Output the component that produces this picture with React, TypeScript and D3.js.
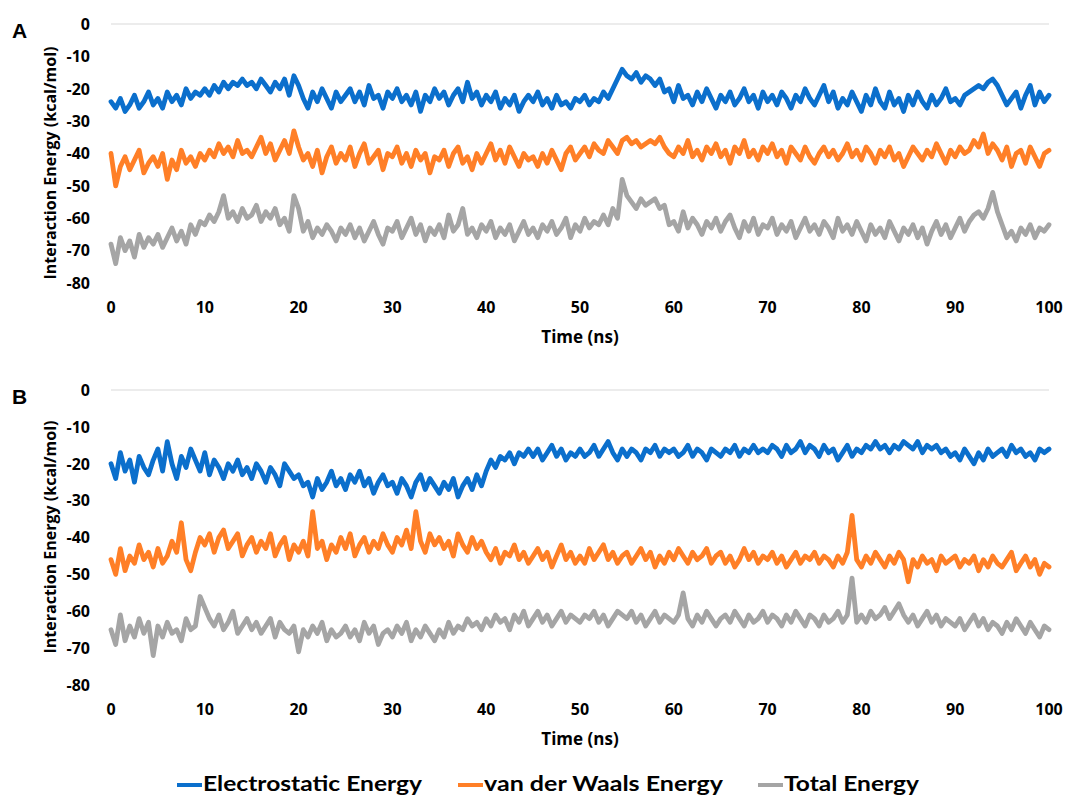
import React from "react";
import * as d3 from "d3";

const SERIES_NAMES = ["Electrostatic Energy", "van der Waals Energy", "Total Energy"];
const SERIES_COLORS = ["#0B6FCC", "#FF7F27", "#A5A5A5"];
const X_TICKS = [0, 10, 20, 30, 40, 50, 60, 70, 80, 90, 100];
const Y_TICKS = [0, -10, -20, -30, -40, -50, -60, -70, -80];
const TIME = d3.range(0, 100.001, 0.5);

const A_ELEC = [
  -24,-26,-23,-27,-25,-22,-26,-24,-21,-25,
  -23,-26,-21,-24,-22,-25,-20,-23,-21,-22,
  -20,-22,-19,-21,-18,-20,-18,-19,-17,-19,
  -18,-20,-17,-19,-21,-18,-20,-17,-22,-16,
  -19,-23,-26,-21,-24,-20,-23,-26,-21,-24,
  -22,-20,-24,-21,-25,-19,-23,-22,-26,-21,
  -23,-20,-24,-22,-25,-21,-27,-22,-24,-20,
  -23,-21,-25,-22,-20,-24,-18,-23,-21,-25,
  -22,-24,-21,-26,-23,-25,-22,-27,-24,-22,
  -24,-21,-25,-23,-26,-22,-25,-24,-26,-23,
  -24,-22,-25,-23,-24,-21,-23,-20,-17,-14,
  -16,-17,-15,-18,-16,-17,-19,-17,-21,-20,
  -24,-19,-23,-22,-25,-21,-24,-20,-23,-26,
  -22,-24,-21,-25,-23,-20,-24,-22,-26,-21,
  -24,-22,-25,-21,-23,-26,-22,-24,-20,-23,
  -25,-22,-19,-24,-21,-26,-23,-25,-21,-24,
  -27,-22,-25,-20,-24,-26,-21,-25,-23,-27,
  -22,-25,-21,-24,-26,-22,-25,-23,-20,-24,
  -23,-25,-22,-21,-20,-19,-20,-18,-17,-19,
  -22,-25,-23,-21,-26,-22,-19,-25,-21,-24,
  -22,
];
const A_VDW = [
  -40,-50,-44,-41,-45,-42,-39,-46,-43,-41,
  -44,-40,-48,-42,-45,-39,-43,-41,-44,-40,
  -42,-39,-41,-37,-40,-38,-41,-36,-40,-39,
  -41,-38,-35,-40,-37,-42,-39,-36,-40,-33,
  -38,-42,-40,-44,-39,-46,-41,-38,-43,-40,
  -42,-38,-44,-40,-37,-43,-41,-39,-45,-40,
  -41,-38,-43,-40,-44,-39,-42,-40,-46,-41,
  -42,-39,-44,-40,-38,-43,-41,-45,-40,-43,
  -40,-37,-42,-39,-43,-38,-41,-44,-40,-42,
  -41,-44,-40,-43,-39,-42,-45,-40,-38,-42,
  -40,-38,-41,-37,-39,-40,-36,-38,-40,-36,
  -35,-37,-36,-38,-37,-36,-37,-35,-38,-40,
  -41,-38,-40,-36,-41,-39,-42,-38,-40,-37,
  -41,-39,-43,-38,-40,-36,-41,-39,-42,-38,
  -40,-37,-41,-39,-43,-38,-40,-42,-38,-41,
  -43,-40,-38,-41,-39,-42,-40,-37,-41,-39,
  -42,-38,-40,-43,-39,-41,-38,-42,-40,-44,
  -41,-38,-40,-42,-39,-41,-37,-40,-43,-39,
  -41,-38,-40,-39,-36,-38,-34,-40,-37,-39,
  -42,-38,-44,-40,-39,-43,-38,-41,-44,-40,
  -39,
];
const A_TOTAL = [
  -68,-74,-66,-70,-67,-72,-65,-69,-66,-68,
  -65,-69,-66,-63,-67,-64,-68,-62,-65,-61,
  -62,-59,-61,-58,-53,-60,-58,-61,-57,-60,
  -59,-56,-61,-58,-60,-57,-62,-60,-64,-53,
  -57,-64,-61,-66,-63,-65,-62,-64,-67,-63,
  -65,-62,-66,-63,-67,-64,-61,-65,-68,-63,
  -64,-61,-66,-63,-60,-65,-62,-67,-63,-65,
  -62,-66,-59,-64,-62,-57,-65,-63,-66,-62,
  -64,-61,-66,-63,-65,-62,-67,-64,-61,-65,
  -63,-66,-62,-64,-61,-65,-63,-60,-66,-62,
  -64,-60,-63,-61,-62,-59,-62,-57,-60,-48,
  -53,-55,-57,-54,-56,-55,-54,-57,-56,-62,
  -61,-64,-58,-63,-60,-62,-65,-61,-63,-60,
  -64,-61,-59,-63,-66,-61,-64,-60,-65,-62,
  -63,-60,-65,-62,-64,-61,-66,-63,-60,-64,
  -62,-65,-61,-63,-66,-60,-64,-62,-65,-61,
  -64,-67,-62,-65,-63,-66,-61,-64,-67,-63,
  -65,-62,-66,-63,-68,-64,-61,-65,-62,-66,
  -63,-60,-64,-61,-59,-58,-60,-57,-52,-58,
  -62,-66,-64,-67,-63,-65,-62,-66,-63,-64,
  -62,
];
const B_ELEC = [
  -20,-24,-17,-22,-19,-25,-18,-21,-23,-19,
  -16,-22,-14,-20,-24,-18,-21,-16,-19,-22,
  -17,-23,-19,-21,-24,-20,-22,-19,-23,-21,
  -24,-20,-22,-25,-21,-23,-26,-20,-22,-24,
  -23,-26,-25,-29,-24,-27,-25,-22,-26,-24,
  -27,-23,-25,-22,-26,-24,-28,-25,-23,-26,
  -25,-28,-24,-26,-29,-25,-23,-27,-24,-26,
  -28,-25,-27,-24,-29,-26,-24,-27,-23,-26,
  -22,-19,-21,-18,-19,-17,-20,-17,-18,-16,
  -18,-16,-19,-17,-15,-18,-16,-19,-17,-18,
  -16,-18,-17,-15,-18,-16,-14,-17,-19,-16,
  -18,-16,-17,-19,-16,-17,-15,-18,-16,-17,
  -16,-18,-17,-15,-18,-16,-17,-19,-16,-17,
  -18,-16,-17,-15,-18,-16,-17,-15,-17,-16,
  -17,-15,-16,-18,-15,-17,-16,-14,-17,-15,
  -16,-18,-15,-17,-16,-19,-17,-15,-18,-16,
  -17,-15,-16,-14,-16,-15,-17,-15,-16,-14,
  -15,-16,-14,-17,-15,-16,-15,-17,-16,-18,
  -17,-19,-16,-18,-20,-17,-19,-16,-18,-17,
  -16,-18,-15,-17,-16,-18,-17,-19,-16,-17,
  -16,
];
const B_VDW = [
  -46,-50,-43,-49,-45,-47,-42,-46,-44,-48,
  -43,-47,-45,-41,-44,-36,-46,-49,-44,-40,
  -42,-39,-44,-40,-38,-43,-41,-39,-45,-42,
  -40,-44,-41,-43,-39,-45,-42,-40,-46,-42,
  -44,-41,-45,-33,-43,-41,-46,-42,-44,-40,
  -43,-39,-45,-42,-40,-44,-41,-43,-39,-42,
  -44,-40,-42,-38,-43,-33,-41,-44,-39,-42,
  -40,-43,-41,-45,-39,-42,-44,-40,-43,-41,
  -44,-46,-43,-47,-44,-45,-42,-46,-44,-47,
  -45,-43,-46,-44,-48,-45,-42,-46,-44,-47,
  -45,-47,-43,-46,-44,-42,-46,-44,-47,-45,
  -44,-47,-45,-43,-46,-44,-48,-45,-47,-44,
  -46,-43,-45,-47,-44,-46,-45,-43,-47,-45,
  -44,-47,-45,-48,-46,-43,-46,-44,-47,-45,
  -46,-44,-47,-45,-48,-46,-44,-47,-45,-46,
  -44,-47,-45,-46,-48,-45,-47,-44,-34,-46,
  -48,-45,-47,-44,-46,-48,-45,-47,-44,-46,
  -52,-46,-48,-45,-47,-46,-49,-45,-47,-46,
  -45,-48,-46,-47,-45,-49,-46,-48,-45,-47,
  -48,-46,-44,-49,-47,-45,-48,-46,-50,-47,
  -48,
];
const B_TOTAL = [
  -65,-69,-61,-68,-64,-67,-62,-66,-63,-72,
  -64,-67,-63,-66,-65,-68,-62,-65,-64,-56,
  -59,-62,-64,-61,-65,-63,-60,-66,-64,-62,
  -65,-63,-66,-64,-62,-67,-63,-65,-66,-64,
  -71,-65,-67,-64,-66,-63,-68,-65,-67,-66,
  -64,-67,-65,-68,-63,-66,-64,-69,-66,-65,
  -67,-64,-66,-63,-68,-65,-67,-64,-66,-68,
  -65,-67,-63,-66,-64,-65,-62,-64,-63,-65,
  -62,-64,-61,-63,-62,-65,-61,-63,-60,-64,
  -62,-60,-63,-61,-64,-62,-60,-63,-61,-62,
  -63,-61,-62,-60,-63,-61,-64,-62,-60,-61,
  -62,-60,-63,-61,-64,-62,-60,-63,-61,-62,
  -63,-61,-55,-62,-64,-61,-63,-60,-62,-64,
  -62,-61,-63,-60,-62,-64,-61,-63,-62,-60,
  -63,-61,-62,-64,-61,-63,-60,-62,-64,-61,
  -62,-64,-61,-63,-62,-60,-63,-61,-51,-63,
  -61,-63,-60,-62,-61,-59,-62,-60,-58,-61,
  -63,-61,-64,-62,-60,-63,-61,-64,-62,-63,
  -64,-62,-65,-63,-61,-64,-62,-65,-63,-64,
  -66,-63,-65,-62,-64,-66,-63,-65,-67,-64,
  -65,
];

const FONT = "'Open Sans', 'DejaVu Sans', sans-serif";

type PanelProps = {
  label: string;
  top: number;
  bottom: number;
  ylabelY: number;
  series: number[][];
};

function Panel({ label, top, bottom, ylabelY, series }: PanelProps) {
  const x = d3.scaleLinear().domain([0, 100]).range([111, 1049]);
  const y = d3.scaleLinear().domain([-80, 0]).range([bottom, top]);
  const line = d3
    .line<number>()
    .x((_, i) => x(TIME[i]))
    .y((d) => y(d));
  return (
    <g>
      <text x={12} y={top + 14} fontFamily="Arial, 'Liberation Sans', sans-serif" fontWeight="bold" fontSize={21} fill="#000">
        {label}
      </text>
      <line x1={x(0)} x2={x(100)} y1={y(0)} y2={y(0)} stroke="#D9D9D9" strokeWidth={1.2} />
      {Y_TICKS.map((t) => (
        <text key={t} x={90} y={y(t)} dy="0.36em" textAnchor="end" fontFamily={FONT} fontWeight="bold" fontSize={16} fill="#000">
          {t}
        </text>
      ))}
      {X_TICKS.map((t) => (
        <text key={t} x={x(t)} y={bottom + 24} dy="0.36em" textAnchor="middle" fontFamily={FONT} fontWeight="bold" fontSize={16} fill="#000">
          {t}
        </text>
      ))}
      <text x={580} y={bottom + 54} dy="0.36em" textAnchor="middle" fontFamily={FONT} fontWeight="bold" fontSize={17} fill="#000">
        Time (ns)
      </text>
      <text
        transform={`translate(50,${ylabelY}) rotate(-90)`}
        dy="0.36em"
        textAnchor="middle"
        fontFamily={FONT}
        fontWeight="bold"
        fontSize={16}
        fill="#000"
      >
        Interaction Energy (kcal/mol)
      </text>
      {series.map((s, k) => (
        <path key={k} d={line(s) || ""} fill="none" stroke={SERIES_COLORS[k]} strokeWidth={4.8} strokeLinejoin="round" strokeLinecap="round" />
      ))}
    </g>
  );
}

const LEGEND_X = [177, 458, 758];
const LEGEND_W = [219, 239, 135];

export default function App() {
  return (
    <svg width={1065} height={798} style={{ position: "absolute", left: 0, top: 0, background: "#fff" }}>
      <Panel label="A" top={24} bottom={283} ylabelY={163} series={[A_ELEC, A_VDW, A_TOTAL]} />
      <Panel label="B" top={390} bottom={685} ylabelY={537} series={[B_ELEC, B_VDW, B_TOTAL]} />
      {SERIES_NAMES.map((n, i) => (
        <g key={n}>
          <line x1={LEGEND_X[i]} x2={LEGEND_X[i] + 25} y1={785} y2={785} stroke={SERIES_COLORS[i]} strokeWidth={4} />
          <text
            x={LEGEND_X[i] + 26}
            y={791}
            fontFamily="Lato, 'Open Sans', sans-serif"
            fontWeight="bold"
            fontSize={21}
            textLength={LEGEND_W[i]}
            lengthAdjust="spacingAndGlyphs"
            fill="#000"
          >
            {n}
          </text>
        </g>
      ))}
    </svg>
  );
}
